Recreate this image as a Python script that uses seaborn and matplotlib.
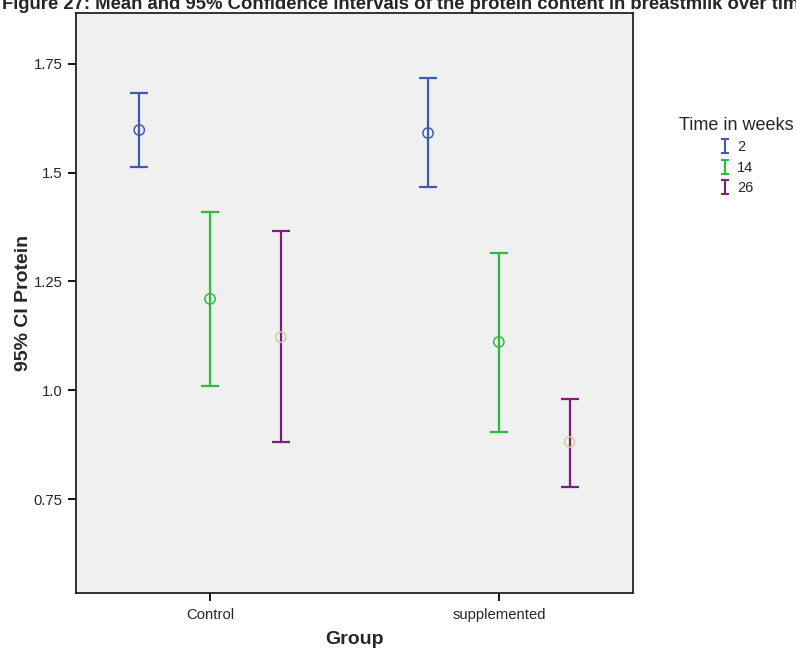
import matplotlib
matplotlib.use("Agg")
import matplotlib.pyplot as plt
from matplotlib.lines import Line2D
from matplotlib.path import Path
import numpy as np
import pandas as pd
import seaborn as sns

# Data: mean protein and 95% CI bounds per group and time point
groups = ["Control", "supplemented"]
times = ["2", "14", "26"]
mean_vals = [[1.598, 1.210, 1.122],
             [1.591, 1.111, 0.881]]
lower_vals = [[1.513, 1.010, 0.881],
              [1.467, 0.904, 0.778]]
upper_vals = [[1.683, 1.410, 1.366],
              [1.718, 1.316, 0.980]]
y_ticks = [0.75, 1.0, 1.25, 1.5, 1.75]
y_tick_labels = ["0.75", "1.0", "1.25", "1.5", "1.75"]

bar_colors = ["#3F5BB0", "#2BBB3C", "#7A1E7C"]
marker_colors = ["#3F5BB0", "#2BBB3C", "#D5CC9C"]
offsets = [-0.245, 0.0, 0.245]

rows = []
for gi, g in enumerate(groups):
    for ti, t in enumerate(times):
        rows.append({"Group": g, "Time": t, "gi": gi, "ti": ti,
                     "mean": mean_vals[gi][ti],
                     "lo": lower_vals[gi][ti],
                     "hi": upper_vals[gi][ti]})
df = pd.DataFrame(rows)
df["x"] = df["gi"] + df["ti"].map(lambda i: offsets[i])

sns.set_style("ticks")
plt.rcParams["font.family"] = ["Liberation Sans", "DejaVu Sans"]

fig = plt.figure(figsize=(7.96, 6.49), dpi=100)
ax = fig.add_axes([0.0955, 0.0863, 0.6995, 0.8937])
ax.set_facecolor("#F0F0F0")

for ti, t in enumerate(times):
    sub = df[df["Time"] == t]
    ax.errorbar(sub["x"], sub["mean"],
                yerr=[sub["mean"] - sub["lo"], sub["hi"] - sub["mean"]],
                fmt="none", ecolor=bar_colors[ti], elinewidth=1.6,
                capsize=6.5, capthick=1.6, zorder=2)
    sns.scatterplot(x=sub["x"], y=sub["mean"], ax=ax, marker="o", s=55,
                    facecolor="none", edgecolor=marker_colors[ti],
                    linewidth=1.1, zorder=3, legend=False)

ax.set_xlim(-0.464, 1.464)
ax.set_ylim(0.534, 1.867)
ax.set_xticks([0, 1])
ax.set_xticklabels(groups, fontsize=10.7)
ax.set_yticks(y_ticks)
ax.set_yticklabels(y_tick_labels, fontsize=10.7)
ax.tick_params(axis="both", direction="out", length=6, width=1.3, color="black")
ax.tick_params(axis="x", pad=5)
for sp in ax.spines.values():
    sp.set_visible(True)
    sp.set_color("#222222")
    sp.set_linewidth(1.3)

ax.set_xlabel("Group", fontsize=14, fontweight="bold", labelpad=6)
ax.set_ylabel("95% CI Protein", fontsize=14, fontweight="bold", labelpad=1)

# "I"-shaped legend keys for the interval bars
i_path = Path([(-0.6, 1), (0.6, 1), (0, 1), (0, -1), (-0.6, -1), (0.6, -1)],
              [Path.MOVETO, Path.LINETO, Path.MOVETO, Path.LINETO,
               Path.MOVETO, Path.LINETO])
handles = [Line2D([], [], linestyle="none", marker=i_path, markersize=9.4,
                  markeredgewidth=1.5, markeredgecolor=c, markerfacecolor="none")
           for c in bar_colors]

fig.legend(handles=handles, labels=times, title="Time in weeks",
           loc="upper left", bbox_to_anchor=(0.84, 0.836),
           frameon=False, fontsize=10.5, title_fontsize=13,
           handlelength=0.8, handletextpad=0.4, labelspacing=0.45,
           borderpad=0.2)

fig.text(0.002, 0.986,
         "Figure 27: Mean and 95% Confidence intervals of the protein content in breastmilk over time",
         fontsize=13.3, fontweight="bold", ha="left", va="baseline")

fig.savefig("out.png", dpi=100)
